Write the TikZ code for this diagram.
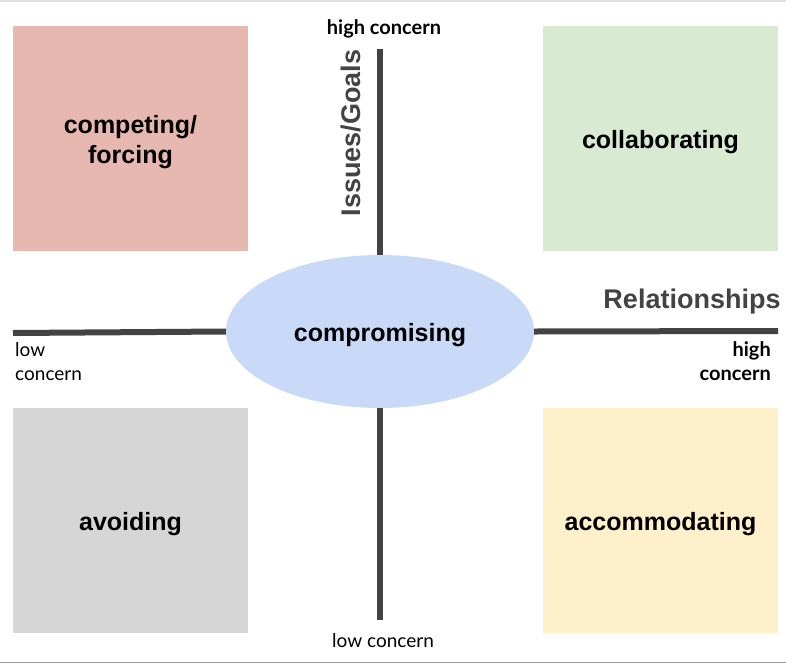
\documentclass[tikz,border=0pt]{standalone}
\usepackage{fontspec}
\setmainfont{Liberation Sans}
\newfontfamily\geo{Lato}
\usetikzlibrary{shapes.geometric}
\definecolor{cred}{HTML}{E6B8AF}
\definecolor{cgreen}{HTML}{D9EAD3}
\definecolor{cgray}{HTML}{D6D6D6}
\definecolor{cyellow}{HTML}{FFF0CC}
\definecolor{cblue}{HTML}{C9DAF8}
\definecolor{axis}{HTML}{434343}
\tikzset{
  quad/.style={minimum width=235pt, minimum height=225pt, inner sep=0pt},
  lbl/.style={inner sep=0pt, align=center, font=\fontsize{25}{30}\selectfont\bfseries},
  axisline/.style={line width=6pt, draw=axis},
  small/.style={font=\geo\fontsize{19}{24}\selectfont, inner sep=0pt},
  smallb/.style={font=\geo\fontsize{20}{24}\selectfont\bfseries, inner sep=0pt},
  axlabel/.style={font=\fontsize{27}{30}\selectfont\bfseries, text=axis, inner sep=0pt}
}
\begin{document}
\begin{tikzpicture}[x=1pt,y=-1pt]
\useasboundingbox (0,0) rectangle (786,664);
\draw[line width=1.5pt, draw=black!12] (0,0.75) -- (786,0.75);
\draw[line width=1.5pt, draw=black!40] (0,662.5) -- (786,662.5);

\node[quad, fill=cred] (comp) at (130.5,138.5) {};
\node[quad, fill=cgreen] (coll) at (660.5,138.5) {};
\node[quad, fill=cgray] (avoid) at (130.5,520.5) {};
\node[quad, fill=cyellow] (acc) at (660.5,520.5) {};
\node[lbl] (compl) at (130.5,142.5) {competing/\\forcing};
\node[lbl] (colll) at (660.5,142.5) {collaborating};
\node[lbl] (avoidl) at (130.5,524.5) {avoiding};
\node[lbl] (accl) at (660.5,524.5) {accommodating};

\node[ellipse, fill=cblue, minimum width=308pt, minimum height=153pt, inner sep=0pt] (ell) at (380,331.5) {};
\node[lbl] (elll) at (380,335.5) {compromising};

\coordinate (vt) at (380,49);
\coordinate (vb) at (380,620);
\coordinate (hl) at (13,333);
\coordinate (hr) at (778,331);
\draw[axisline] (vt) -- (ell.north);
\draw[axisline] (ell.south) -- (vb);
\draw[axisline] (hl) -- (ell.west);
\draw[axisline] (ell.east) -- (hr);

\node[smallb] (tophc) at (384,29) {high concern};
\node[axlabel, rotate=90] (issues) at (351,133) {Issues/Goals};
\node[axlabel] (rel) at (692,302) {Relationships};
\node[smallb, anchor=east, align=right] (rhc) at (771,361) {high\\concern};
\node[small, anchor=west, align=left] (llc) at (15,362) {low\\concern};
\node[small] (blc) at (383,641) {low concern};
\end{tikzpicture}
\end{document}
